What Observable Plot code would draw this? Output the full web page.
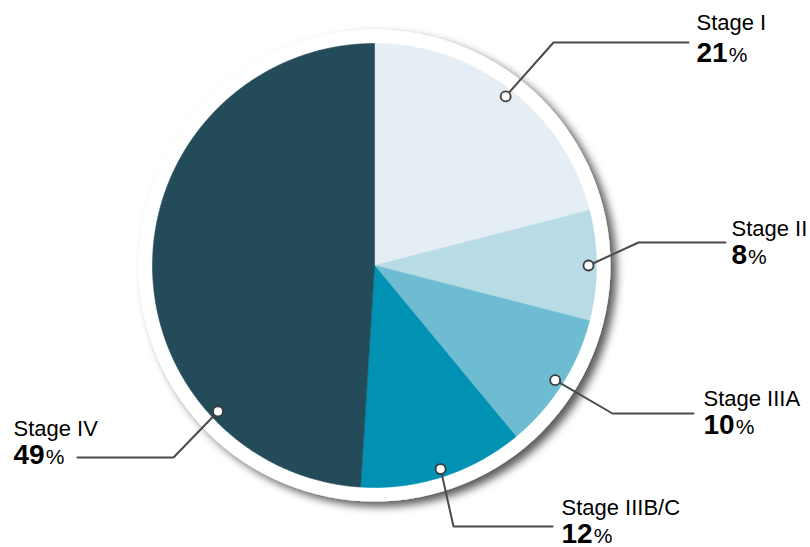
<!DOCTYPE html>
<html><head><meta charset="utf-8">
<script src="https://cdn.jsdelivr.net/npm/d3@7"></script>
<script src="https://cdn.jsdelivr.net/npm/@observablehq/plot@0.6"></script>
<style>html,body{margin:0;padding:0;background:#fff;overflow:hidden}</style>
</head><body><div id="chart"></div>
<script>
// ---- data ----
const stages = ["Stage I", "Stage II", "Stage IIIA", "Stage IIIB/C", "Stage IV"];
const percents = [21, 8, 10, 12, 49];
const colors = ["#e5eef4", "#b8dce6", "#6dbcd1", "#0091b3", "#244b5a"];

// ---- layout (pixels) ----
const W = 810, H = 547, CX = 374, CY = 265, R = 222, RING = 236, DOT_R = 214;
// leader elbows, line ends and label anchors, per stage
const leaderLayout = [
  {elbow: [553, 42],  endX: 688, textX: 696, stageY: 29,  numY: 61},
  {elbow: [638, 242], endX: 725, textX: 731, stageY: 235, numY: 263},
  {elbow: [612, 413], endX: 693, textX: 703, stageY: 405, numY: 433},
  {elbow: [453, 526], endX: 552, textX: 561, stageY: 514, numY: 542},
  {elbow: [173, 457], endX: 77,  textX: 13,  stageY: 435, numY: 463, dotAngle: 227}
];

const total = d3.sum(percents);
const deg = Math.PI / 180;
let acc = 0;
const slices = stages.map((s, i) => {
  const a0 = acc / total * 360; acc += percents[i];
  const a1 = acc / total * 360;
  return {stage: s, value: percents[i], a0, a1, mid: (a0 + a1) / 2};
});
const polar = (a, r) => ({x: r * Math.sin(a * deg), y: -r * Math.cos(a * deg)});

// slice polygons
const slicePts = [];
for (const s of slices) {
  slicePts.push({stage: s.stage, x: 0, y: 0});
  const n = Math.max(2, Math.ceil((s.a1 - s.a0) / 0.25));
  for (let k = 0; k <= n; k++) {
    const p = polar(s.a0 + (s.a1 - s.a0) * k / n, R);
    slicePts.push({stage: s.stage, ...p});
  }
  slicePts.push({stage: s.stage, x: 0, y: 0});
}

// leaders
const dots = [], leaders = [], labels = [];
const canvas = document.createElement("canvas").getContext("2d");
const FONT = "'Liberation Sans', Arial, sans-serif";
canvas.font = `bold 28px ${FONT}`;
slices.forEach((s, i) => {
  const L = leaderLayout[i];
  const d = polar(L.dotAngle ?? s.mid, DOT_R);
  dots.push({stage: s.stage, ...d});
  leaders.push({stage: s.stage, ...d});
  leaders.push({stage: s.stage, x: L.elbow[0] - CX, y: L.elbow[1] - CY});
  leaders.push({stage: s.stage, x: L.endX - CX, y: L.elbow[1] - CY});
  const num = String(s.value);
  const w = canvas.measureText(num).width;
  labels.push({stage: s.stage, num, x: L.textX - CX, sy: L.stageY - CY, ny: L.numY - CY, px: L.textX - CX + w + 1});
});

const svg = Plot.plot({
  width: W, height: H, margin: 0,
  style: {fontFamily: FONT, background: "#fff"},
  x: {domain: [-CX, W - CX], range: [0, W], axis: null},
  y: {domain: [-CY, H - CY], range: [0, H], axis: null},
  color: {domain: stages, range: colors},
  marks: [
    Plot.dot([{x: 0, y: 0}], {x: "x", y: "y", r: RING, fill: "white", stroke: "none"}),
    Plot.line(slicePts, {x: "x", y: "y", z: "stage", fill: "stage", stroke: "stage", strokeWidth: 0.6}),
    Plot.line(leaders, {x: "x", y: "y", z: "stage", stroke: "#4a4a4a", strokeWidth: 2}),
    Plot.dot(dots, {x: "x", y: "y", r: 5, fill: "white", stroke: "#3a3a3a", strokeWidth: 1.8}),
    Plot.text(labels, {x: "x", y: "sy", text: "stage", textAnchor: "start", lineAnchor: "bottom", fontSize: 22, fill: "#000"}),
    Plot.text(labels, {x: "x", y: "ny", text: "num", textAnchor: "start", lineAnchor: "bottom", fontSize: 28, fontWeight: "bold", fill: "#000"}),
    Plot.text(labels, {x: "px", y: "ny", text: () => "%", textAnchor: "start", lineAnchor: "bottom", fontSize: 21, fill: "#000"})
  ]
});

const sel = d3.select(svg);
const f = sel.insert("defs", ":first-child").append("filter").attr("id", "ringShadow")
  .attr("x", "-20%").attr("y", "-20%").attr("width", "140%").attr("height", "140%");
f.append("feDropShadow").attr("dx", 6).attr("dy", 5).attr("stdDeviation", 4)
  .attr("flood-color", "#000").attr("flood-opacity", 0.65);
sel.selectAll("circle").filter(function() { return Math.abs(+this.getAttribute("r") - RING) < 0.5; })
  .attr("filter", "url(#ringShadow)");
document.getElementById("chart").appendChild(svg);
</script>
</body></html>
